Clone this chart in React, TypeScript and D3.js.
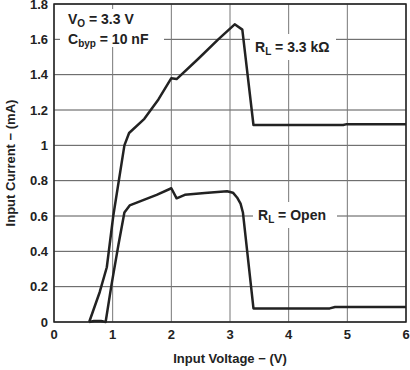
import React from "react";
import { scaleLinear, line } from "d3";

// RL = 3.3 kOhm curve
const loadV = [0.6, 0.78, 0.9, 1.01, 1.2, 1.28, 1.54, 1.78, 2.0, 2.09, 2.46, 2.8, 3.08, 3.21, 3.4, 4.93, 4.99, 6.0];
const loadI = [0, 0.17, 0.31, 0.6, 1.0, 1.07, 1.15, 1.26, 1.38, 1.375, 1.49, 1.6, 1.685, 1.655, 1.115, 1.115, 1.12, 1.12];

// RL = Open curve
const openV = [0.6, 0.68, 0.8, 0.88, 0.98, 1.1, 1.2, 1.29, 1.52, 1.75, 2.0, 2.09, 2.23, 2.57, 2.95, 3.05, 3.12, 3.18, 3.22, 3.4, 4.7, 4.79, 6.0];
const openI = [0, 0.006, 0.006, 0, 0.21, 0.44, 0.62, 0.66, 0.69, 0.72, 0.757, 0.7, 0.72, 0.73, 0.74, 0.732, 0.705, 0.67, 0.62, 0.077, 0.077, 0.085, 0.085];

const xTicks = [0, 1, 2, 3, 4, 5, 6];
const yTicks = [0, 0.2, 0.4, 0.6, 0.8, 1, 1.2, 1.4, 1.6, 1.8];

const font = "'Liberation Sans', Arial, sans-serif";

function App() {
  const left = 54, right = 406, top = 4, bottom = 322;
  const x = scaleLinear().domain([0, 6]).range([left, right]);
  const y = scaleLinear().domain([0, 1.8]).range([bottom, top]);
  const path = line<number[]>().x(d => x(d[0])).y(d => y(d[1]));
  const toPts = (vs: number[], is: number[]) => vs.map((v, i) => [v, is[i]]);

  return (
    <svg width={410} height={370} style={{ position: "absolute", left: 0, top: 0, background: "#fff" }}
      fontFamily={font} fontWeight="bold">
      {yTicks.map(t => (
        <line key={"gy" + t} x1={left} x2={right} y1={y(t)} y2={y(t)} stroke="#555" strokeWidth={1} />
      ))}
      {xTicks.map(t => (
        <line key={"gx" + t} x1={x(t)} x2={x(t)} y1={top} y2={bottom} stroke="#777" strokeWidth={1} />
      ))}

      {/* label boxes */}
      <rect x={60} y={9} width={104} height={38} fill="#fff" />
      <rect x={250} y={34} width={86} height={26} fill="#fff" />
      <rect x={253} y={202} width={84} height={26} fill="#fff" />

      <path d={path(toPts(loadV, loadI)) || ""} fill="none" stroke="#222" strokeWidth={2.5} strokeLinejoin="round" />
      <path d={path(toPts(openV, openI)) || ""} fill="none" stroke="#222" strokeWidth={2.5} strokeLinejoin="round" />

      <rect x={left} y={top} width={right - left} height={bottom - top} fill="none" stroke="#222" strokeWidth={1.5} />

      {yTicks.map(t => (
        <text key={"ty" + t} x={48} y={y(t)} dy="0.36em" textAnchor="end" fontSize={13} fill="#222">{t}</text>
      ))}
      {xTicks.map(t => (
        <text key={"tx" + t} x={x(t)} y={339} textAnchor="middle" fontSize={13} fill="#222">{t}</text>
      ))}

      <text x={(left + right) / 2} y={363} textAnchor="middle" fontSize={13} fill="#222">Input Voltage − (V)</text>
      <text transform={`translate(15, ${(top + bottom) / 2}) rotate(-90)`} textAnchor="middle" fontSize={13} fill="#222">Input Current − (mA)</text>

      <text x={68} y={24} fontSize={14} fill="#222">V<tspan fontSize={10} dy={3}>O</tspan><tspan dy={-3}> = 3.3 V</tspan></text>
      <text x={68} y={44} fontSize={14} fill="#222">C<tspan fontSize={10} dy={3}>byp</tspan><tspan dy={-3}> = 10 nF</tspan></text>
      <text x={255} y={52} fontSize={14} fill="#222">R<tspan fontSize={10} dy={3}>L</tspan><tspan dy={-3}> = 3.3 kΩ</tspan></text>
      <text x={258} y={220} fontSize={14} fill="#222">R<tspan fontSize={10} dy={3}>L</tspan><tspan dy={-3}> = Open</tspan></text>
    </svg>
  );
}

export default App;
